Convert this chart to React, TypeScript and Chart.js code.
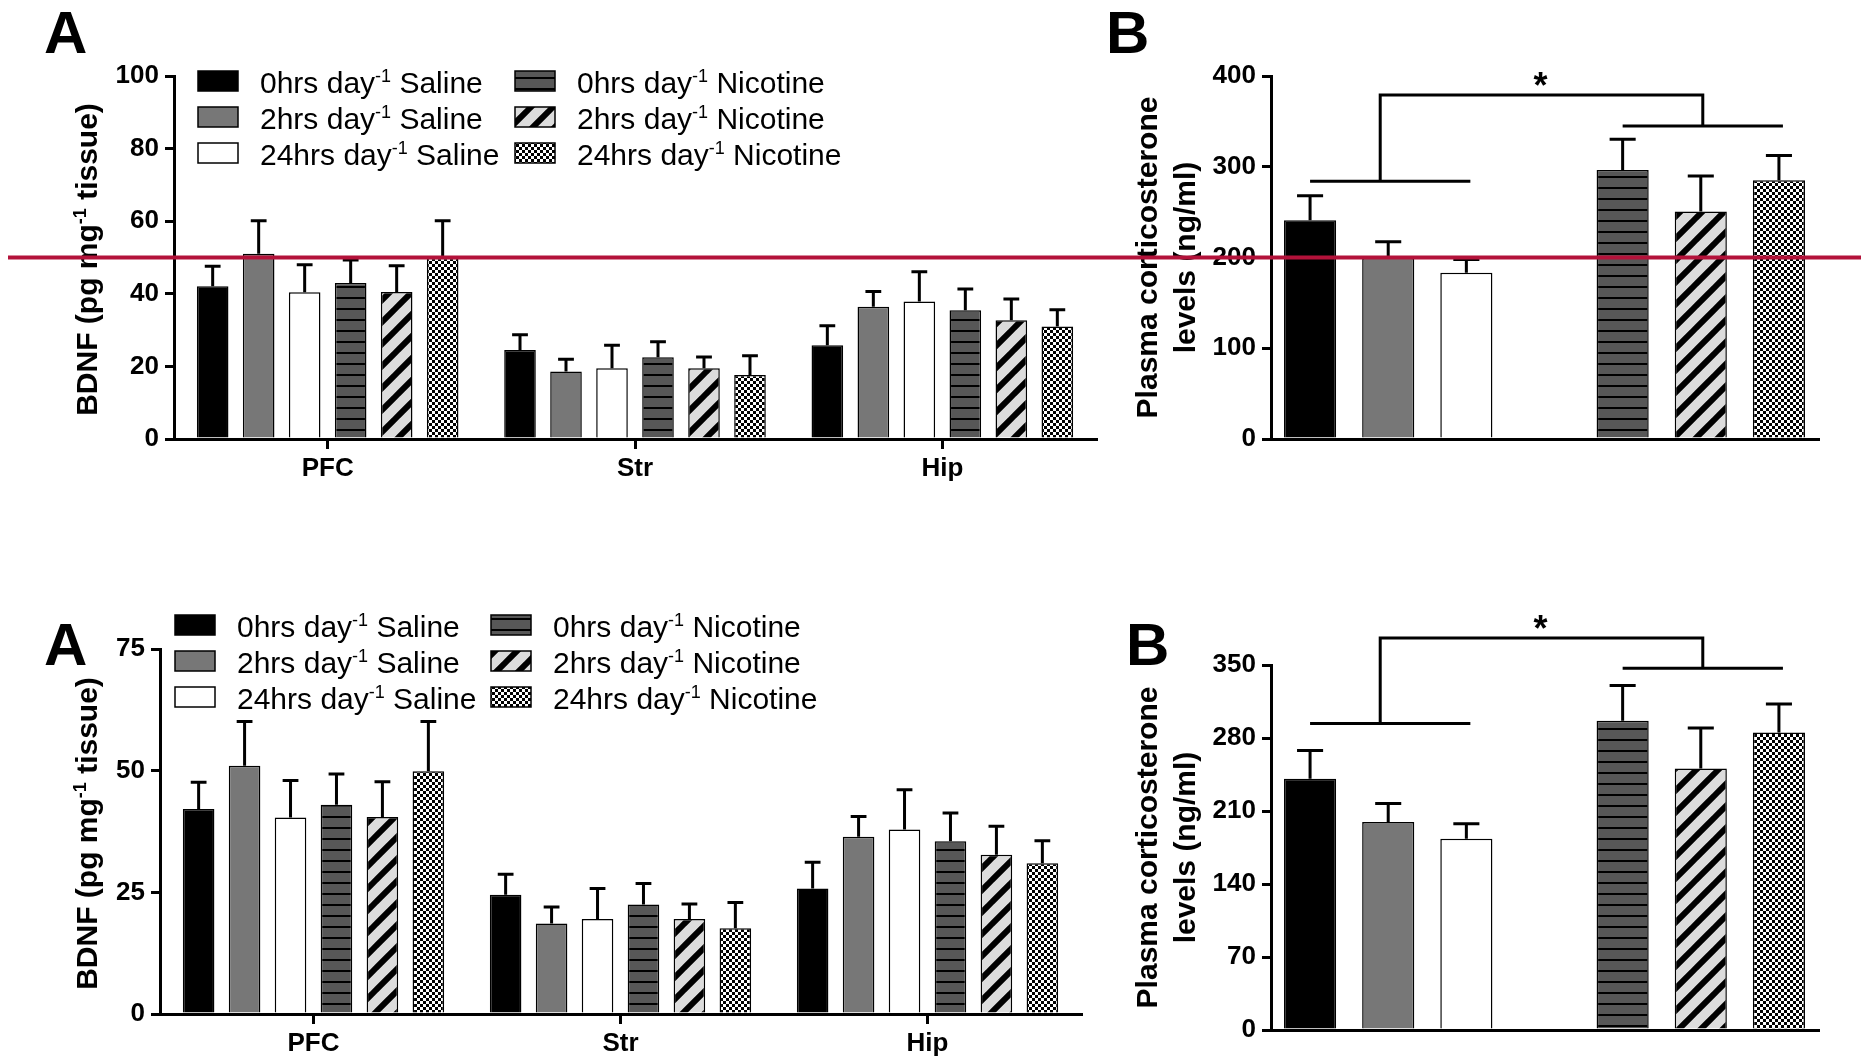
import React, { useEffect, useRef } from 'react';
import { Chart, registerables } from 'chart.js';

Chart.register(...registerables);

// ---------------- data ----------------
const REGIONS = ['PFC', 'Str', 'Hip'];
const SERIES_DOSE = ['0hrs', '2hrs', '24hrs', '0hrs', '2hrs', '24hrs'];
const SERIES_TREATMENT = ['Saline', 'Saline', 'Saline', 'Nicotine', 'Nicotine', 'Nicotine'];

// BDNF (pg mg-1 tissue), mean per region (PFC, Str, Hip)
const BDNF_0H_SALINE = [42.1, 24.5, 25.8];
const BDNF_2H_SALINE = [51.0, 18.6, 36.4];
const BDNF_24H_SALINE = [40.4, 19.5, 37.9];
const BDNF_0H_NICOTINE = [43.0, 22.5, 35.5];
const BDNF_2H_NICOTINE = [40.5, 19.5, 32.7];
const BDNF_24H_NICOTINE = [49.9, 17.6, 31.0];
// SEM
const BDNF_SEM_0H_SALINE = [5.5, 4.2, 5.4];
const BDNF_SEM_2H_SALINE = [9.1, 3.4, 4.2];
const BDNF_SEM_24H_SALINE = [7.6, 6.3, 8.2];
const BDNF_SEM_0H_NICOTINE = [6.3, 4.3, 5.8];
const BDNF_SEM_2H_NICOTINE = [7.2, 3.1, 5.9];
const BDNF_SEM_24H_NICOTINE = [10.2, 5.3, 4.6];

// Plasma corticosterone (ng/ml); slot 3 is the gap between groups
const CORT_GROUPS = ['0hrs Saline', '2hrs Saline', '24hrs Saline', '', '0hrs Nicotine', '2hrs Nicotine', '24hrs Nicotine'];
const CORT_MEAN = [241, 199.5, 183.3, null, 296.5, 250.7, 285.2];
const CORT_SEM = [27, 17.8, 14.5, null, 33.8, 39, 27.3];
// significance bracket levels [saline bar, top bar, nicotine bar]
const CORT_BRACKET_TOP = [284, 379, 345];
const CORT_BRACKET_BOTTOM = [294, 376, 347];

// axes
const BDNF_AXIS_TOP = [0, 100, 20];
const BDNF_AXIS_BOTTOM = [0, 75, 25];
const CORT_AXIS_TOP = [0, 400, 100];
const CORT_AXIS_BOTTOM = [0, 350, 70];
const REF_LINE_BDNF = 50;
const REF_LINE_CORT = 200;

const FONT = '"Liberation Sans", Arial, Helvetica, sans-serif';
const RED = '#B3123A';

// ---------------- patterns ----------------
function makeTile(w: number, h: number, draw: (g: CanvasRenderingContext2D) => void) {
  const c = document.createElement('canvas');
  c.width = w;
  c.height = h;
  const g = c.getContext('2d') as CanvasRenderingContext2D;
  draw(g);
  return g.createPattern(c, 'repeat') as CanvasPattern;
}

function makeFills(): any[] {
  const hLines = makeTile(8, 11, (g) => {
    g.fillStyle = '#575757';
    g.fillRect(0, 0, 8, 11);
    g.fillStyle = '#000';
    g.fillRect(0, 0, 8, 2);
  });
  const P = 22;
  const hatch = makeTile(P, P, (g) => {
    g.fillStyle = '#dcdcdc';
    g.fillRect(0, 0, P, P);
    g.strokeStyle = '#000';
    g.lineWidth = 6;
    g.beginPath();
    for (let k = -1; k <= 1; k++) {
      g.moveTo(k * P - 2, P + 2);
      g.lineTo(k * P + P + 2, -2);
    }
    g.stroke();
  });
  const checker = makeTile(6, 6, (g) => {
    g.fillStyle = '#fff';
    g.fillRect(0, 0, 6, 6);
    g.fillStyle = '#000';
    g.fillRect(0, 0, 3, 3);
    g.fillRect(3, 3, 3, 3);
  });
  return ['#000000', '#777777', '#ffffff', hLines, hatch, checker];
}

// ---------------- drawing helpers ----------------
function drawSupText(ctx: CanvasRenderingContext2D, parts: [string, string, string], x: number, y: number, size: number, bold: boolean, center: boolean) {
  const w = bold ? 'bold ' : '';
  const supSize = Math.round(size * 0.6);
  ctx.font = `${w}${size}px ${FONT}`;
  const w1 = ctx.measureText(parts[0]).width;
  const w3 = ctx.measureText(parts[2]).width;
  ctx.font = `${w}${supSize}px ${FONT}`;
  const w2 = ctx.measureText(parts[1]).width;
  let sx = center ? x - (w1 + w2 + w3) / 2 : x;
  ctx.textAlign = 'left';
  ctx.textBaseline = 'alphabetic';
  ctx.font = `${w}${size}px ${FONT}`;
  ctx.fillText(parts[0], sx, y);
  ctx.font = `${w}${supSize}px ${FONT}`;
  ctx.fillText(parts[1], sx + w1, y - size * 0.38);
  ctx.font = `${w}${size}px ${FONT}`;
  ctx.fillText(parts[2], sx + w1 + w2, y);
}

function drawLegend(ctx: CanvasRenderingContext2D, fills: any[], cols: number[], rows: number[]) {
  for (let i = 0; i < SERIES_DOSE.length; i++) {
    const col = i < 3 ? 0 : 1;
    const row = i % 3;
    const bx = cols[col];
    const cy = rows[row];
    ctx.save();
    ctx.fillStyle = fills[i];
    ctx.fillRect(bx, cy - 10, 40, 20);
    ctx.strokeStyle = '#000';
    ctx.lineWidth = 1.5;
    ctx.strokeRect(bx, cy - 10, 40, 20);
    ctx.fillStyle = '#000';
    drawSupText(ctx, [SERIES_DOSE[i] + ' day', '-1', ' ' + SERIES_TREATMENT[i]], bx + 62, cy + 12, 30, false, false);
    ctx.restore();
  }
}

function drawLetter(ctx: CanvasRenderingContext2D, letter: string, x: number, baseline: number) {
  ctx.save();
  ctx.fillStyle = '#000';
  ctx.font = `bold 60px ${FONT}`;
  ctx.textAlign = 'left';
  ctx.textBaseline = 'alphabetic';
  ctx.fillText(letter, x, baseline);
  ctx.restore();
}

function drawRefLine(chart: any, value: number, x0: number) {
  const ctx = chart.ctx;
  const y = chart.scales.y.getPixelForValue(value);
  ctx.save();
  ctx.strokeStyle = RED;
  ctx.lineWidth = 4;
  ctx.beginPath();
  ctx.moveTo(x0, y);
  ctx.lineTo(chart.width, y);
  ctx.stroke();
  ctx.restore();
}

const errorBarPlugin = {
  id: 'errorBars',
  afterDatasetsDraw(chart: any) {
    const ctx = chart.ctx;
    const ys = chart.scales.y;
    chart.data.datasets.forEach((ds: any, i: number) => {
      const meta = chart.getDatasetMeta(i);
      meta.data.forEach((el: any, j: number) => {
        const v = ds.data[j];
        const s = ds.sem ? ds.sem[j] : null;
        if (v == null || s == null) return;
        const p = el.getProps(['x', 'y', 'width'], true);
        const yt = ys.getPixelForValue(v + s);
        const half = p.width / 4;
        ctx.save();
        ctx.strokeStyle = '#000';
        ctx.lineWidth = 3;
        ctx.beginPath();
        ctx.moveTo(p.x, p.y);
        ctx.lineTo(p.x, yt);
        ctx.moveTo(p.x - half, yt);
        ctx.lineTo(p.x + half, yt);
        ctx.stroke();
        ctx.restore();
      });
    });
  },
};

// ---------------- configs ----------------
type Area = { left: number; right: number; top: number; bottom: number };

function commonScales(area: Area, w: number, h: number, axis: number[], showX: boolean) {
  const tickFont = { family: FONT, size: 26, weight: 'bold' as const };
  return {
    x: {
      type: 'category',
      offset: true,
      grid: {
        display: showX,
        drawOnChartArea: false,
        drawTicks: true,
        tickLength: 10,
        offset: false,
        color: '#000',
        lineWidth: 3,
      },
      border: { display: true, color: '#000', width: 3 },
      ticks: { display: showX, color: '#000', font: tickFont, padding: 4, maxRotation: 0, autoSkip: false },
      afterFit: (s: any) => {
        s.height = h - area.bottom;
      },
    },
    y: {
      min: axis[0],
      max: axis[1],
      ticks: { stepSize: axis[2], color: '#000', font: tickFont, padding: 6 },
      grid: { drawOnChartArea: false, drawTicks: true, tickLength: 9, color: '#000', lineWidth: 3 },
      border: { display: true, color: '#000', width: 3 },
      afterFit: (s: any) => {
        s.width = area.left;
      },
    },
  };
}

function bdnfConfig(fills: any[], o: any) {
  const means = [BDNF_0H_SALINE, BDNF_2H_SALINE, BDNF_24H_SALINE, BDNF_0H_NICOTINE, BDNF_2H_NICOTINE, BDNF_24H_NICOTINE];
  const sems = [BDNF_SEM_0H_SALINE, BDNF_SEM_2H_SALINE, BDNF_SEM_24H_SALINE, BDNF_SEM_0H_NICOTINE, BDNF_SEM_2H_NICOTINE, BDNF_SEM_24H_NICOTINE];
  const area: Area = o.area;
  const decor = {
    id: 'decor',
    afterDraw(chart: any) {
      const ctx = chart.ctx;
      drawLetter(ctx, 'A', o.letter[0], o.letter[1]);
      drawLegend(ctx, fills, o.legendCols, o.legendRows);
      const ca = chart.chartArea;
      ctx.save();
      ctx.fillStyle = '#000';
      ctx.translate(o.titleX, (ca.top + ca.bottom) / 2 + 2);
      ctx.rotate(-Math.PI / 2);
      drawSupText(ctx, ['BDNF (pg mg', '-1', ' tissue)'], 0, 11, 30, true, true);
      ctx.restore();
      if (o.ref != null) drawRefLine(chart, o.ref, o.refStart);
    },
  };
  return {
    type: 'bar',
    data: {
      labels: REGIONS,
      datasets: means.map((m, i) => ({
        label: `${SERIES_DOSE[i]} day-1 ${SERIES_TREATMENT[i]}`,
        data: m,
        sem: sems[i],
        backgroundColor: fills[i],
        borderColor: '#000',
        borderWidth: 1.5,
        barPercentage: 0.687,
        categoryPercentage: 0.898,
      })),
    },
    options: {
      responsive: false,
      maintainAspectRatio: false,
      devicePixelRatio: 1,
      animation: false,
      events: [],
      layout: { padding: { left: 0, top: area.top, right: o.w - area.right, bottom: 0 } },
      plugins: { legend: { display: false }, tooltip: { enabled: false }, title: { display: false } },
      scales: commonScales(area, o.w, o.h, o.axis, true),
    },
    plugins: [errorBarPlugin, decor],
  } as any;
}

function cortConfig(fills: any[], o: any) {
  const area: Area = o.area;
  const bracket: number[] = o.bracket;
  const brackets = {
    id: 'brackets',
    afterDatasetsDraw(chart: any) {
      const ctx = chart.ctx;
      const xs = chart.scales.x;
      const ys = chart.scales.y;
      const X = (i: number) => xs.getPixelForValue(i);
      const yl = ys.getPixelForValue(bracket[0]);
      const yt = ys.getPixelForValue(bracket[1]);
      const yr = ys.getPixelForValue(bracket[2]);
      ctx.save();
      ctx.strokeStyle = '#000';
      ctx.lineWidth = 3;
      ctx.beginPath();
      ctx.moveTo(X(0), yl);
      ctx.lineTo(X(2) + 4, yl);
      ctx.moveTo(X(4), yr);
      ctx.lineTo(X(6) + 4, yr);
      ctx.moveTo(X(1) - 8, yl);
      ctx.lineTo(X(1) - 8, yt);
      ctx.lineTo(X(5) + 2, yt);
      ctx.lineTo(X(5) + 2, yr);
      ctx.stroke();
      ctx.fillStyle = '#000';
      ctx.font = `bold 36px ${FONT}`;
      ctx.textAlign = 'center';
      ctx.textBaseline = 'alphabetic';
      ctx.fillText('*', X(3) - 4, yt + 3);
      ctx.restore();
    },
  };
  const decor = {
    id: 'decor',
    afterDraw(chart: any) {
      const ctx = chart.ctx;
      drawLetter(ctx, 'B', o.letter[0], o.letter[1]);
      const ca = chart.chartArea;
      const cy = (ca.top + ca.bottom) / 2;
      ctx.save();
      ctx.fillStyle = '#000';
      ctx.font = `bold 30px ${FONT}`;
      ctx.textAlign = 'center';
      ctx.textBaseline = 'middle';
      ctx.translate(o.titleX[0], cy);
      ctx.rotate(-Math.PI / 2);
      ctx.fillText('Plasma corticosterone', 0, 0);
      ctx.restore();
      ctx.save();
      ctx.fillStyle = '#000';
      ctx.font = `bold 30px ${FONT}`;
      ctx.textAlign = 'center';
      ctx.textBaseline = 'middle';
      ctx.translate(o.titleX[1], cy);
      ctx.rotate(-Math.PI / 2);
      ctx.fillText('levels (ng/ml)', 0, 0);
      ctx.restore();
      if (o.ref != null) drawRefLine(chart, o.ref, 0);
    },
  };
  const bg = [fills[0], fills[1], fills[2], 'rgba(0,0,0,0)', fills[3], fills[4], fills[5]];
  return {
    type: 'bar',
    data: {
      labels: CORT_GROUPS,
      datasets: [
        {
          label: 'Plasma corticosterone',
          data: CORT_MEAN,
          sem: CORT_SEM,
          backgroundColor: bg,
          borderColor: '#000',
          borderWidth: 1.5,
          barPercentage: 0.667,
          categoryPercentage: 1,
        },
      ],
    },
    options: {
      responsive: false,
      maintainAspectRatio: false,
      devicePixelRatio: 1,
      animation: false,
      events: [],
      layout: { padding: { left: 0, top: area.top, right: o.w - area.right, bottom: 0 } },
      plugins: { legend: { display: false }, tooltip: { enabled: false }, title: { display: false } },
      scales: commonScales(area, o.w, o.h, o.axis, false),
    },
    plugins: [errorBarPlugin, brackets, decor],
  } as any;
}

// ---------------- component ----------------
export default function App() {
  const c1 = useRef<HTMLCanvasElement>(null);
  const c2 = useRef<HTMLCanvasElement>(null);
  const c3 = useRef<HTMLCanvasElement>(null);
  const c4 = useRef<HTMLCanvasElement>(null);

  useEffect(() => {
    const fills = makeFills();
    const charts: Chart[] = [];
    charts.push(
      new Chart(
        c1.current as HTMLCanvasElement,
        bdnfConfig(fills, {
          w: 1100,
          h: 520,
          area: { left: 174, right: 1096, top: 76, bottom: 439 },
          axis: BDNF_AXIS_TOP,
          letter: [44, 53],
          legendCols: [198, 515],
          legendRows: [81, 117, 153],
          titleX: 86,
          ref: REF_LINE_BDNF,
          refStart: 8,
        })
      )
    );
    charts.push(
      new Chart(
        c2.current as HTMLCanvasElement,
        cortConfig(fills, {
          w: 761,
          h: 520,
          area: { left: 171, right: 718, top: 76, bottom: 439 },
          axis: CORT_AXIS_TOP,
          letter: [6, 53],
          titleX: [49, 87],
          bracket: CORT_BRACKET_TOP,
          ref: REF_LINE_CORT,
        })
      )
    );
    charts.push(
      new Chart(
        c3.current as HTMLCanvasElement,
        bdnfConfig(fills, {
          w: 1100,
          h: 529,
          area: { left: 160, right: 1081, top: 119, bottom: 484 },
          axis: BDNF_AXIS_BOTTOM,
          letter: [44, 135],
          legendCols: [175, 491],
          legendRows: [95, 131, 167],
          titleX: 86,
          ref: null,
          refStart: 0,
        })
      )
    );
    charts.push(
      new Chart(
        c4.current as HTMLCanvasElement,
        cortConfig(fills, {
          w: 761,
          h: 529,
          area: { left: 171, right: 718, top: 135, bottom: 500 },
          axis: CORT_AXIS_BOTTOM,
          letter: [26, 135],
          titleX: [49, 87],
          bracket: CORT_BRACKET_BOTTOM,
          ref: null,
        })
      )
    );
    return () => charts.forEach((c) => c.destroy());
  }, []);

  const cs = (l: number, t: number, w: number, h: number): React.CSSProperties => ({
    position: 'absolute',
    left: l,
    top: t,
    width: w,
    height: h,
  });

  return (
    <div style={{ position: 'absolute', left: 0, top: 0, width: 1861, height: 1059, background: '#fff', overflow: 'hidden' }}>
      <canvas ref={c1} width={1100} height={520} style={cs(0, 0, 1100, 520)} />
      <canvas ref={c2} width={761} height={520} style={cs(1100, 0, 761, 520)} />
      <canvas ref={c3} width={1100} height={529} style={cs(0, 530, 1100, 529)} />
      <canvas ref={c4} width={761} height={529} style={cs(1100, 530, 761, 529)} />
    </div>
  );
}
